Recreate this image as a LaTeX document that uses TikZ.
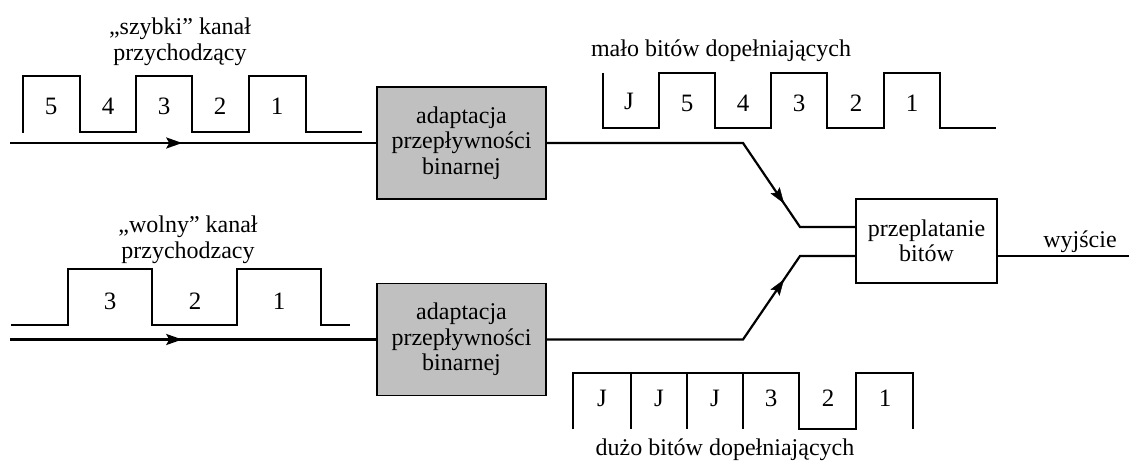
\documentclass[tikz,border=0pt]{standalone}
\usepackage{fontspec}
\setmainfont{Liberation Serif}
\usetikzlibrary{arrows.meta,decorations.markings}
\definecolor{boxgray}{RGB}{192,192,192}
\begin{document}
\begin{tikzpicture}[x=1pt,y=-1pt,
  font=\fontsize{24}{25.5}\selectfont,
  block/.style={draw,line width=1.1pt,inner sep=0pt,align=center},
  graybox/.style={block,fill=boxgray,minimum width=169pt,minimum height=112pt},
  mainline/.style={line width=2.2pt},
  sig/.style={line width=1.5pt,line join=miter},
  lbl/.style={inner sep=0pt,anchor=base},
  dig/.style={lbl,font=\fontsize{25}{25}\selectfont},
  ttl/.style={inner sep=0pt,align=center},
  arrowat/.style={postaction={decorate},decoration={markings,
     mark=at position #1 with {\arrow{Stealth[length=16pt,width=11pt,inset=3pt]}}}}
]
\useasboundingbox (0,0) rectangle (1129,462);

% boxes
\node[graybox] (b1) at (461.5,143) {adaptacja\\przepływności\\binarnej};
\node[graybox] (b2) at (461.5,339.5) {adaptacja\\przepływności\\binarnej};
\node[block,minimum width=141pt,minimum height=84pt] (pb) at (926.5,241) {przeplatanie\\bitów};

% coordinates
\coordinate (in1) at (10,143);
\coordinate (in2) at (10,339.5);
\coordinate (k1) at (743,143);
\coordinate (k2) at (800,227);
\coordinate (k3) at (743,339.5);
\coordinate (k4) at (800,256);
\coordinate (out) at (1129,256);

% connectors
\draw[mainline,arrowat=0.47] (in1) -- (b1.west);
\draw[mainline,arrowat=0.47] (in2) -- (b2.west);
\draw[mainline,line join=miter] (b1.east) -- (k1) -- (k2) -- (pb.west |- k2);
\path[arrowat=0.72] (k1) -- (k2);
\draw[mainline,line join=miter] (b2.east |- k3) -- (k3) -- (k4) -- (pb.west |- k4);
\path[arrowat=0.72] (k3) -- (k4);
\draw[mainline] (pb.east |- out) -- (out);

% fast input waveform
\draw[sig] (23,133) -- (23,76) -- (80,76) -- (80,132) -- (136,132) -- (136,76)
  -- (192,76) -- (192,132) -- (249,132) -- (249,76) -- (306,76) -- (306,132) -- (362,132);
\node[dig] (f5) at (51,115) {5};
\node[dig] (f4) at (108,115) {4};
\node[dig] (f3) at (164,115) {3};
\node[dig] (f2) at (220,115) {2};
\node[dig] (f1) at (277,115) {1};
\node[ttl] (t1) at (180,42) {„szybki” kanał\\przychodzący};

% slow input waveform
\draw[sig] (11,325) -- (68,325) -- (68,269) -- (152,269) -- (152,325) -- (237,325)
  -- (237,269) -- (321,269) -- (321,325) -- (350,325);
\node[dig] (s3) at (110,309) {3};
\node[dig] (s2) at (195,309) {2};
\node[dig] (s1) at (279,309) {1};
\node[ttl] (t2) at (188,240) {„wolny” kanał\\przychodzacy};

% upper output waveform
\draw[sig] (603,73) -- (603,128) -- (659,128) -- (659,73) -- (715,73) -- (715,128)
  -- (771,128) -- (771,73) -- (827,73) -- (827,128) -- (884,128) -- (884,73)
  -- (940,73) -- (940,128) -- (996,128);
\node[dig] (uJ) at (629,110) {J};
\node[dig] (u5) at (687,112) {5};
\node[dig] (u4) at (743,112) {4};
\node[dig] (u3) at (799,112) {3};
\node[dig] (u2) at (856,112) {2};
\node[dig] (u1) at (912,112) {1};
\node[lbl] (t3) at (721,57) {mało bitów dopełniających};

% lower output waveform
\draw[sig] (573,429) -- (573,373) -- (799,373) -- (799,429) -- (856,429) -- (856,373)
  -- (913,373) -- (913,429);
\draw[sig] (631,373) -- (631,429) (687,373) -- (687,429) (743,373) -- (743,429);
\node[dig] (dJ1) at (602,406) {J};
\node[dig] (dJ2) at (659,406) {J};
\node[dig] (dJ3) at (715,406) {J};
\node[dig] (d3) at (771,406) {3};
\node[dig] (d2) at (828,406) {2};
\node[dig] (d1) at (885,406) {1};
\node[lbl] (t4) at (725,455) {dużo bitów dopełniających};

\node[lbl] (wy) at (1080,248) {wyjście};
\end{tikzpicture}
\end{document}
